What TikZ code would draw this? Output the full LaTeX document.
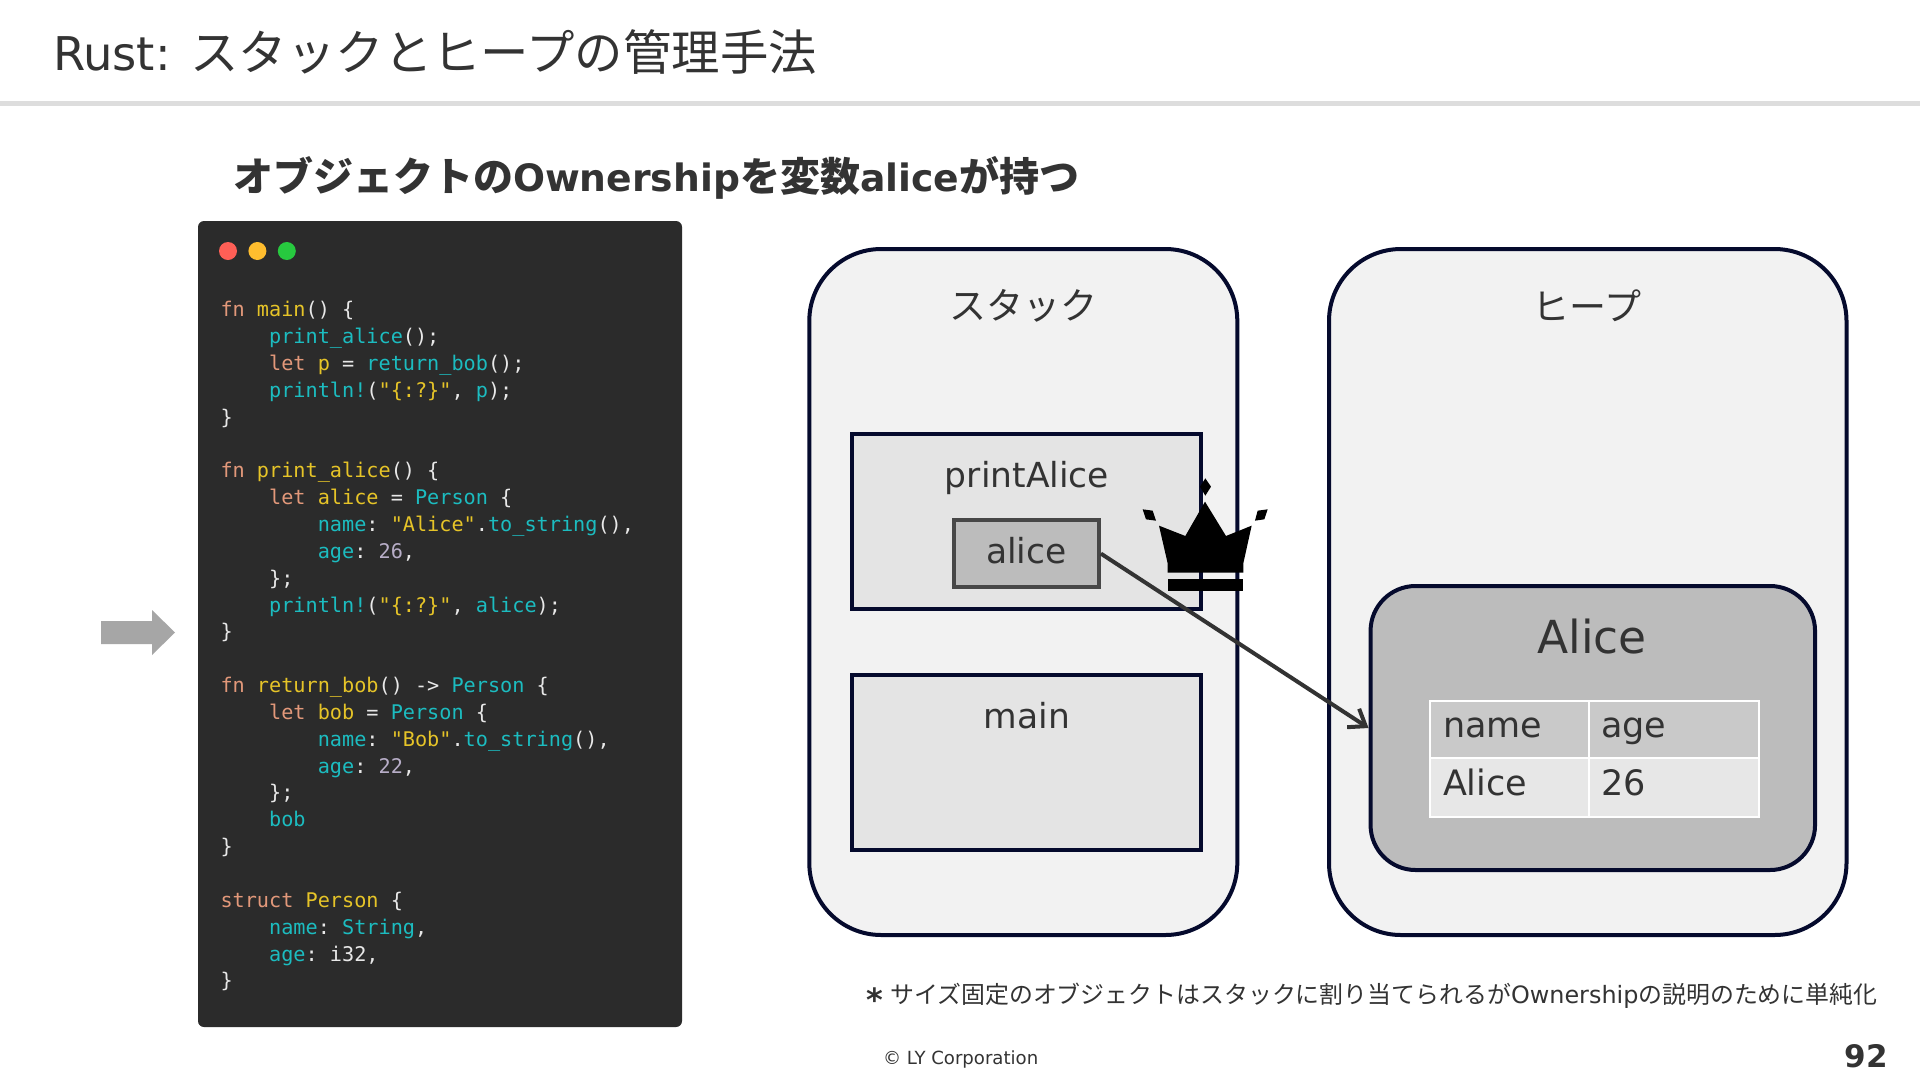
\documentclass[tikz,border=0pt]{standalone}
\usepackage{fontspec}
\usepackage{xcolor}
\usetikzlibrary{positioning,arrows.meta}
\setmainfont{DejaVu Sans}
\setmonofont{DejaVu Sans Mono}
\newfontfamily\jpfont{Noto Sans CJK JP}
\definecolor{ink}{RGB}{51,51,51}
\definecolor{navy}{RGB}{5,10,45}
\definecolor{rulegray}{RGB}{221,221,221}
\definecolor{panel}{RGB}{43,43,43}
\definecolor{pale}{RGB}{242,242,242}
\definecolor{frame}{RGB}{228,228,228}
\definecolor{mid}{RGB}{188,188,188}
\definecolor{headcell}{RGB}{201,201,201}
\definecolor{bodycell}{RGB}{231,231,231}
\definecolor{marker}{RGB}{166,166,166}
\definecolor{dotred}{RGB}{255,95,86}
\definecolor{dotamber}{RGB}{255,189,46}
\definecolor{dotgreen}{RGB}{39,201,63}
\definecolor{codekey}{RGB}{226,152,122}
\definecolor{codename}{RGB}{230,196,40}
\definecolor{codeteal}{RGB}{28,188,192}
\definecolor{codenum}{RGB}{184,174,200}
\definecolor{codetext}{RGB}{232,232,232}
\newcommand{\fs}[1]{\fontsize{#1}{#1}\selectfont}
\newcommand{\jp}[1]{{\jpfont #1}}
\newcommand{\ck}[1]{\textcolor{codekey}{#1}}
\newcommand{\cn}[1]{\textcolor{codename}{#1}}
\newcommand{\ct}[1]{\textcolor{codeteal}{#1}}
\newcommand{\cv}[1]{\textcolor{codenum}{#1}}
\begin{document}
\begin{tikzpicture}[x=1pt,y=-1pt,node distance=10pt,
  txt/.style={inner sep=0pt,outer sep=0pt,text=ink},
  zone/.style={draw=navy,fill=pale,line width=4pt,rounded corners=72pt,minimum width=428pt,minimum height=686pt},
  slot/.style={draw=navy,fill=frame,line width=4pt,minimum width=348.4pt,minimum height=175.5pt},
  cell/.style={draw=white,line width=2pt,inner sep=0pt,text=ink,font=\fs{35},text height=25pt,text depth=9pt},
  dot/.style={circle,inner sep=0pt,minimum size=18pt},
  a/.style={-{Straight Barb[length=15pt,width=22pt]},ink,line width=4pt}]
  \useasboundingbox (0,0) rectangle (1920,1080);
  \fill[white] (0,0) rectangle (1920,1080);
  % header
  \node[txt,anchor=base west,font=\fs{46.5}] (title) at (53,70) {Rust: \jp{\fs{48.4}スタックとヒープの管理手法}};
  \fill[rulegray] (0,101) rectangle (1920,106);
  \node[txt,anchor=base west,font=\fs{37.7}\bfseries] (lead) at (233,191)
    {\jp{\fs{40}オブジェクトの}Ownership\jp{\fs{40}を変数}alice\jp{\fs{40}が持つ}};
  % code panel
  \fill[panel,rounded corners=6pt] (198,221) rectangle (682,1027);
  \node[dot,fill=dotred] (d1) at (228,251) {};
  \node[dot,fill=dotamber,right=11pt of d1] (d2) {};
  \node[dot,fill=dotgreen,right=11pt of d2] (d3) {};
  \node[inner sep=0pt,anchor=north west,align=left,text=codetext,
        font=\ttfamily\fontsize{20.2}{26.84}\selectfont] (code) at (220.3,301.3) {%
\ck{fn} \cn{main}() \{\\
~~~~\ct{print\_alice}();\\
~~~~\ck{let} \cn{p} = \ct{return\_bob}();\\
~~~~\ct{println!}(\cn{"\{:?\}"}, \ct{p});\\
\}\\
~\\
\ck{fn} \cn{print\_alice}() \{\\
~~~~\ck{let} \cn{alice} = \ct{Person} \{\\
~~~~~~~~\ct{name}: \cn{"Alice"}.\ct{to\_string}(),\\
~~~~~~~~\ct{age}: \cv{26},\\
~~~~\};\\
~~~~\ct{println!}(\cn{"\{:?\}"}, \ct{alice});\\
\}\\
~\\
\ck{fn} \cn{return\_bob}() -> \ct{Person} \{\\
~~~~\ck{let} \cn{bob} = \ct{Person} \{\\
~~~~~~~~\ct{name}: \cn{"Bob"}.\ct{to\_string}(),\\
~~~~~~~~\ct{age}: \cv{22},\\
~~~~\};\\
~~~~\ct{bob}\\
\}\\
~\\
\ck{struct} \cn{Person} \{\\
~~~~\ct{name}: \ct{String},\\
~~~~\ct{age}: i32,\\
\}};
  \fill[marker] (101,621) -- (152,621) -- (152,610) -- (175,632.5) -- (152,655) -- (152,644) -- (101,644) -- cycle;
  % stack and heap
  \node[zone] (stack) at (1023.3,592) {};
  \node[zone,minimum width=517.5pt,right=87.7pt of stack] (heap) {};
  \node[txt,font=\fs{37}] (stacklabel) at (1023,306) {\jp{スタック}};
  \node[txt,font=\fs{37}] (heaplabel) at (1587,306) {\jp{ヒープ}};
  \node[slot] (fprint) at (1026.5,521.7) {};
  \node[slot,below=61.4pt of fprint] (fmain) {};
  \node[txt,anchor=base,font=\fs{34.5}] (lprint) at (1027,487) {printAlice};
  \node[txt,anchor=base,font=\fs{34.5}] (lmain) at (1027,728) {main};
  \node[draw=ink!90,fill=mid,line width=4pt,minimum width=145pt,minimum height=67.5pt,
        inner sep=0pt,text=ink,font=\fs{34.5},text height=26pt,text depth=7pt] (alice) at (1026.4,553.6) {alice};
  % object on the heap
  \node[draw=navy,fill=mid,line width=4pt,rounded corners=45pt,minimum width=444.5pt,minimum height=284pt] (obj) at (1592.8,728) {};
  \node[txt,anchor=base,font=\fs{45.5}] (objlabel) at (1592,653) {Alice};
  \node[cell,fill=headcell,anchor=north west,minimum width=159pt,minimum height=57pt,text width=132pt] (c11) at (1428.5,699.5) {name};
  \node[cell,fill=headcell,anchor=north west,minimum width=170pt,minimum height=57pt,text width=145pt] (c12) at (1587.5,699.5) {age};
  \node[cell,fill=bodycell,anchor=north west,minimum width=159pt,minimum height=59pt,text width=132pt] (c21) at (1428.5,756.5) {Alice};
  \node[cell,fill=bodycell,anchor=north west,minimum width=170pt,minimum height=59pt,text width=145pt] (c22) at (1587.5,756.5) {26};
  \draw[a] (alice.east) -- (obj.west);
  % crown
  \begin{scope}[shift={(1080,460)},x=0.3333pt,y=-0.3333pt]
    \fill[black] (237,197) -- (316,228) -- (375,125) -- (438,228) -- (515,197) -- (490,310) -- (490,338)
      -- (263,338) -- (263,310) -- cycle;
    \fill[black] (263,358) rectangle (488,393);
    \fill[black] (376,55) -- (393,80) -- (376,107) -- (360,80) -- cycle;
    \fill[black] (188,148) -- (218,152) -- (228,182) -- (198,178) -- cycle;
    \fill[black] (563,148) -- (533,152) -- (525,182) -- (553,178) -- cycle;
  \end{scope}
  % footer
  \node[txt,anchor=base west,font=\fs{23.9}] (note) at (866,1003)
    {\raisebox{-8pt}{\textbf{\fs{32}*}} \jp{サイズ固定のオブジェクトはスタックに割り当てられるが}Ownership\jp{の説明のために単純化}};
  \node[txt,anchor=base west,font=\fs{18.1}] (corp) at (883,1064) {© LY Corporation};
  \node[txt,anchor=base east,font=\fs{31}\bfseries] (page) at (1888,1067) {92};
\end{tikzpicture}
\end{document}
